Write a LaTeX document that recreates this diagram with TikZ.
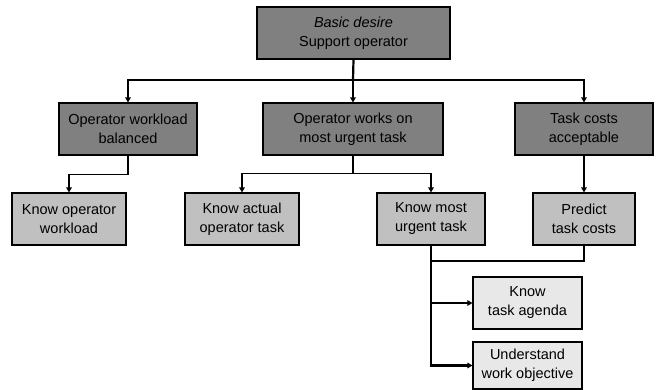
\documentclass[tikz,border=0pt]{standalone}
\usepackage{fontspec}
\setmainfont{Liberation Sans}
\usetikzlibrary{arrows.meta}
\definecolor{darkbox}{HTML}{808080}
\definecolor{midbox}{HTML}{C0C0C0}
\definecolor{lightbox}{HTML}{E8E8E8}
\begin{document}
\begin{tikzpicture}[x=1pt,y=-1pt,
  box/.style={draw=black,line width=1.1pt,rectangle,inner sep=0pt,align=center,
    minimum height=52pt,font=\fontsize{14.5}{19}\selectfont},
  lvlone/.style={box,fill=darkbox},
  lvltwo/.style={box,fill=midbox},
  lvlthree/.style={box,fill=lightbox},
  conn/.style={line width=1.3pt},
  arr/.style={conn,-{Triangle[length=5pt,width=5.5pt]}},
  boldconn/.style={line width=2.2pt},
  boldarr/.style={boldconn,-{Triangle[length=5pt,width=5.5pt]}}]
\useasboundingbox (0,0) rectangle (657,390);
\node[lvlone,minimum width=193pt] (top) at (353.5,33) {\textit{Basic desire}\\Support operator};
\node[lvlone,minimum width=138pt] (owb) at (128,129) {Operator workload\\balanced};
\node[lvlone,minimum width=180pt] (owu) at (353,129) {Operator works on\\most urgent task};
\node[lvlone,minimum width=138pt] (tca) at (584,129) {Task costs\\acceptable};
\node[lvltwo,minimum width=114pt] (kow) at (69,219) {Know operator\\workload};
\node[lvltwo,minimum width=114pt] (kat) at (242,219) {Know actual\\operator task};
\node[lvltwo,minimum width=108pt] (kmu) at (431,219) {Know most\\urgent task};
\node[lvltwo,minimum width=102pt] (ptc) at (584,219) {Predict\\task costs};
\node[lvlthree,minimum width=109pt] (kta) at (527.5,303) {Know\\task agenda};
\node[lvlthree,minimum width=109pt,minimum height=47pt] (uwo) at (527.5,365.5) {Understand\\work objective};
\coordinate (bus) at (353,80);
\coordinate (j) at (431,261);
% top to bus
\draw[boldconn] (top.south) -- (bus);
\draw[arr] (bus) -- (owu.north);
\draw[arr] (bus) -| (owb.north);
\draw[arr] (bus) -| (tca.north);
% level 1 to level 2
\draw[arr] (owb.south) -- ++(0,19) -| (kow.north);
\draw[arr] (owu.south) -- ++(0,18) -| (kat.north);
\draw[arr] (owu.south) -- ++(0,18) -| (kmu.north);
\draw[arr] (tca.south) -- (ptc.north);
% level 2 to level 3
\draw[conn] (kmu.south) -- (j);
\draw[conn] (ptc.south) |- (j);
\draw[boldarr] (j) |- (kta.west);
\draw[boldarr] (j) |- (uwo.west);
\end{tikzpicture}
\end{document}
